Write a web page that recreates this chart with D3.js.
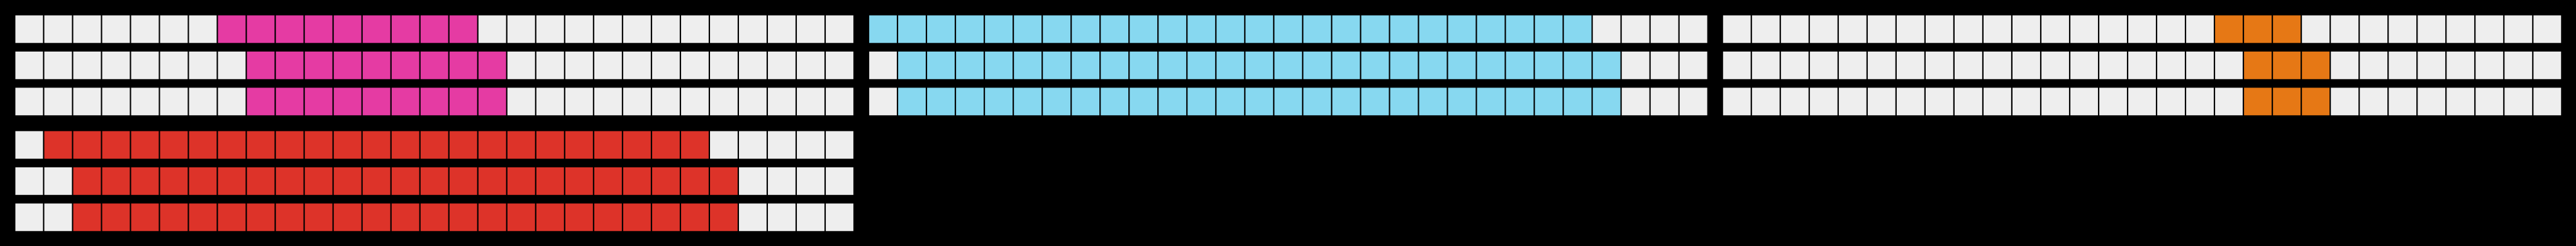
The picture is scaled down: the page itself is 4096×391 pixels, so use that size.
<!DOCTYPE html>
<html>
<head>
<meta charset="utf-8">
<script src="https://cdn.jsdelivr.net/npm/d3@7"></script>
<style>
  html, body { margin: 0; padding: 0; background: #000; overflow: hidden; }
  svg { display: block; }
</style>
</head>
<body>
<script>
// ---- data ----
const panels = ["Panel 1", "Panel 2", "Panel 3", "Panel 4"];
const panelCol = [0, 1, 2, 0];
const panelRow = [0, 0, 0, 1];
const rowsPerPanel = ["Row 1", "Row 2", "Row 3"];
const cellsPerRow = 29;
// first filled cell (0-based) in each row of each panel
const fillStart = [
  [7, 8, 8],
  [0, 1, 1],
  [17, 18, 18],
  [1, 2, 2]
];
// number of filled cells in each row of each panel
const fillCount = [
  [9, 9, 9],
  [25, 25, 25],
  [3, 3, 3],
  [23, 23, 23]
];
const panelColors = ["#e53ba3", "#87d8f0", "#e67815", "#dd3329"];
const emptyColor = "#eeeeee";

// ---- layout (reference units, scaled by viewBox) ----
const W = 5696, H = 544;
const svg = d3.select("body").append("svg")
  .attr("width", 4096).attr("height", 391)
  .attr("viewBox", `0 0 ${W} ${H}`)
  .attr("preserveAspectRatio", "none");

svg.append("rect").attr("width", W).attr("height", H).attr("fill", "#000");

const panelX = d3.scaleBand().domain([0, 1, 2]).range([34, 5663]).paddingInner(35 / 1888);
const panelY = d3.scaleBand().domain([0, 1]).range([34, 511]).paddingInner(35 / 256);
const colX = d3.scaleBand().domain(d3.range(cellsPerRow)).range([0, panelX.bandwidth()]).paddingInner(3 / 64);
const rowY = d3.scaleBand().domain(d3.range(rowsPerPanel.length)).range([0, panelY.bandwidth()]).paddingInner(19 / 80);

const cells = [];
panels.forEach((p, pi) => {
  rowsPerPanel.forEach((r, ri) => {
    d3.range(cellsPerRow).forEach(ci => {
      const filled = ci >= fillStart[pi][ri] && ci < fillStart[pi][ri] + fillCount[pi][ri];
      cells.push({ pi, ri, ci, filled });
    });
  });
});

const g = svg.selectAll("g.panel").data(panels).join("g")
  .attr("class", "panel")
  .attr("transform", (d, i) => `translate(${panelX(panelCol[i])},${panelY(panelRow[i])})`);

g.selectAll("rect.cell")
  .data((d, i) => cells.filter(c => c.pi === i))
  .join("rect")
  .attr("class", "cell")
  .attr("x", d => colX(d.ci))
  .attr("y", d => rowY(d.ri))
  .attr("width", colX.bandwidth())
  .attr("height", rowY.bandwidth())
  .attr("fill", d => d.filled ? panelColors[d.pi] : emptyColor);
</script>
</body>
</html>
